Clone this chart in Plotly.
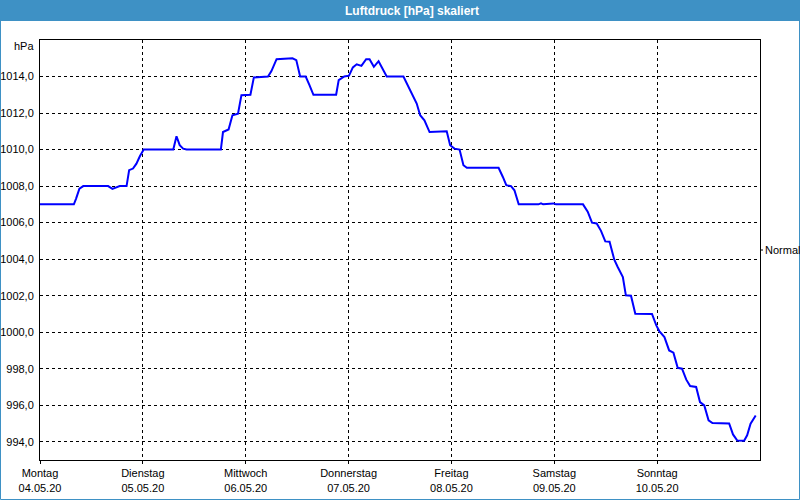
import plotly.graph_objects as go

# Hours since Monday 04.05.20 00:00
hours = [0, 7.9, 8.4, 9.2, 10.1, 15.9, 16.9, 17.9, 18.6, 20.2, 20.8, 21.7, 22.5, 23.3,
         24.2, 31.1, 31.85, 32.6, 33.4, 34.2, 42.2, 42.7, 44.0, 44.9, 46.2, 47.0, 49.1,
         49.9, 52.2, 53.2, 54.0, 55.2, 58.9, 59.8, 60.7, 62.0, 62.9, 63.8, 69.1, 69.7,
         71.0, 72.1, 73.0, 73.9, 75.0, 76.1, 76.9, 77.9, 79.0, 80.0, 80.9, 84.8, 85.8,
         87.0, 87.9, 88.7, 89.7, 90.9, 94.9, 95.7, 96.7, 97.9, 98.8, 99.6, 107.0, 108.0,
         108.8, 109.9, 110.7, 111.7, 116.3, 116.9, 117.4, 119.8, 120.4, 126.7, 127.8,
         128.8, 129.9, 130.9, 131.9, 132.9, 134.0, 134.8, 136.0, 136.7, 137.9, 138.9,
         142.8, 143.8, 144.5, 145.7, 146.8, 147.8, 148.8, 149.8, 150.8, 151.7, 153.1,
         154.0, 155.0, 156.0, 156.9, 160.8, 161.7, 162.7, 164.3, 165.0, 165.8, 167.0]
pressure = [1007, 1007, 1007.3, 1007.86, 1008, 1008, 1007.85, 1007.95, 1008, 1008,
            1008.87, 1008.96, 1009.23, 1009.63, 1010, 1010, 1010.73, 1010.24, 1010.05,
            1010, 1010, 1010.96, 1011.1, 1011.88, 1011.97, 1012.98, 1013, 1013.95, 1014,
            1014, 1014.3, 1014.95, 1015, 1014.9, 1014, 1014, 1013.52, 1013, 1013, 1013.8,
            1014, 1014.05, 1014.5, 1014.67, 1014.58, 1014.95, 1014.95, 1014.53, 1014.84,
            1014.38, 1014, 1014, 1013.52, 1012.97, 1012.52, 1011.88, 1011.6, 1010.96,
            1011, 1010.24, 1010.05, 1010, 1009.14, 1009, 1009, 1008.5, 1008.05, 1008,
            1007.77, 1007.0, 1007, 1007.05, 1007, 1007.05, 1007, 1007, 1006.6, 1006,
            1005.95, 1005.55, 1004.97, 1004.95, 1003.97, 1003.57, 1003.02, 1002.02, 1002,
            1001.01, 1001, 1000.37, 1000.06, 999.73, 999.0, 998.88, 998.05, 998, 997.4,
            997.05, 997, 996.17, 995.99, 995.17, 995.02, 995, 994.4, 994.07, 994.05,
            994.35, 994.99, 995.44]

day_ticks = [0, 24, 48, 72, 96, 120, 144]
day_names = ["Montag", "Dienstag", "Mittwoch", "Donnerstag", "Freitag", "Samstag", "Sonntag"]
day_dates = ["04.05.20", "05.05.20", "06.05.20", "07.05.20", "08.05.20", "09.05.20", "10.05.20"]
y_ticks = [994, 996, 998, 1000, 1002, 1004, 1006, 1008, 1010, 1012, 1014]
normal_level = 1004.5

FONT = "Liberation Sans"

fig = go.Figure()
fig.add_trace(go.Scatter(x=hours, y=pressure, mode="lines",
                         line=dict(color="#0000ff", width=2), hoverinfo="skip",
                         showlegend=False))

fig.update_layout(
    width=800, height=500,
    margin=dict(l=40, r=40, t=40, b=40, autoexpand=False),
    paper_bgcolor="white", plot_bgcolor="white",
    separators=",.",
    font=dict(family=FONT, size=11, color="#000000"),
    showlegend=False,
)
fig.update_xaxes(
    range=[0, 168], tickvals=day_ticks,
    ticktext=[f"{n}<br>{d}" for n, d in zip(day_names, day_dates)],
    showgrid=True, gridcolor="#000000", gridwidth=1, griddash="3px,3px",
    showline=True, linecolor="#000000", linewidth=1, mirror=True,
    ticks="outside", ticklen=3, tickcolor="#000000",
    zeroline=False, fixedrange=True, automargin=False,
)
fig.update_yaxes(
    range=[993, 1016], tickvals=y_ticks, tickformat=".1f",
    showgrid=True, gridcolor="#000000", gridwidth=1, griddash="3px,3px",
    showline=True, linecolor="#000000", linewidth=1, mirror=True,
    ticks="", ticklabelstandoff=3,
    zeroline=False, fixedrange=True, automargin=False,
)

# window title bar
fig.add_shape(type="rect", xref="paper", yref="paper",
              x0=-40/720, x1=760/720, y0=(460-21)/420, y1=460/420,
              fillcolor="#3e91c5", line=dict(width=0), layer="below")
# window border
fig.add_shape(type="rect", xref="paper", yref="paper",
              x0=-39.5/720, x1=759.5/720, y0=(460-499.5)/420, y1=(460-20)/420,
              fillcolor="rgba(0,0,0,0)", line=dict(color="#3e91c5", width=1))
fig.add_annotation(text="<b>Luftdruck [hPa] skaliert</b>", xref="paper", yref="paper",
                   x=(412-40)/720, y=(460-10.5)/420, xanchor="center", yanchor="middle",
                   showarrow=False, font=dict(family=FONT, size=12, color="white"))
fig.add_annotation(text="hPa", xref="paper", yref="paper",
                   x=-4/720, y=(460-46)/420, xanchor="right", yanchor="middle",
                   showarrow=False, font=dict(family=FONT, size=11))
# Normal marker on right axis
fig.add_shape(type="line", xref="paper", yref="y", x0=1, x1=1 + 3/720,
              y0=normal_level, y1=normal_level, line=dict(color="#000000", width=1))
fig.add_annotation(text="Normal", xref="paper", yref="y",
                   x=1 + 3/720, y=normal_level, xanchor="left", yanchor="middle",
                   showarrow=False, font=dict(family=FONT, size=11))

fig.write_html("out.html")
